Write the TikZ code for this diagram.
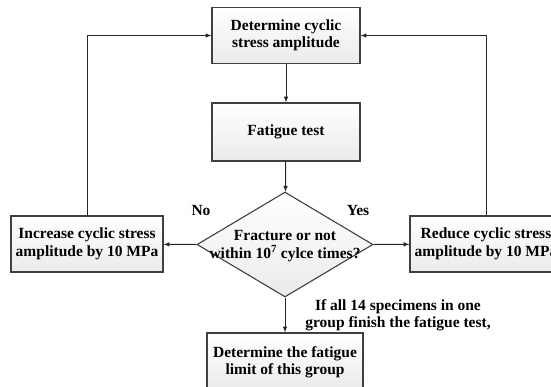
\documentclass[tikz,border=0pt]{standalone}
\usepackage{fontspec}
\setmainfont{Liberation Serif}
\usetikzlibrary{shapes.geometric}
\usetikzlibrary{positioning}
\usetikzlibrary{arrows}
\tikzset{x=1pt, y=-1pt, % y runs downwards
>=latex,
font=\fontsize{15.5}{17.5}\selectfont\bfseries,
process/.style={ % Sets the properties for each box
draw=black!75,
line width=1.1pt,
top color=white,
bottom color=gray!16,
align=center,
minimum width=148pt,
minimum height=56pt},
decision/.style={ % Diamond with its text set apart
diamond,
draw=black!75,
line width=1.1pt,
top color=white,
bottom color=gray!16,
inner sep=0pt,
minimum width=176pt,
minimum height=105pt},
flow/.style={ % Sets the properties for each connector
draw=black!85,
->,
line width=1pt}}

\begin{document}
\begin{tikzpicture}
\useasboundingbox (0,0) rectangle (551,386);
\clip (0,0) rectangle (551,386);
\node[process] (amp) at (286,35.5) {Determine cyclic\\stress amplitude};
\node[process, minimum height=58pt] (test) at (286,132) {Fatigue test};
\node[decision] (check) at (285,244.5) {};
\node[align=center] (checktext) at (285,246) {Fracture or not\\within 10\textsuperscript{7} cylce times?};
\node[process, minimum width=152pt] (incr) at (87,244) {Increase cyclic stress\\amplitude by 10 MPa};
\node[process, minimum width=152pt] (redu) at (486,244) {Reduce cyclic stress\\amplitude by 10 MPa};
\node[process, minimum width=156pt, minimum height=58pt] (limit) at (285,362) {Determine the fatigue\\limit of this group};
\node (no) at (201,210) {No};
\node (yes) at (358,210) {Yes};
\node[align=center] (note) at (398,315) {If all 14 specimens in one\\group finish the fatigue test,};
\draw[flow] (amp) -- (test);
\draw[flow] (test) -- (check);
\draw[flow] (check.west) -- (incr);
\draw[flow] (check.east) -- (redu);
\draw[flow] (check.south) -- (limit);
\draw[flow] (incr.north) |- (amp.west);
\draw[flow] (redu.north) |- (amp.east);
\end{tikzpicture}
\end{document}
